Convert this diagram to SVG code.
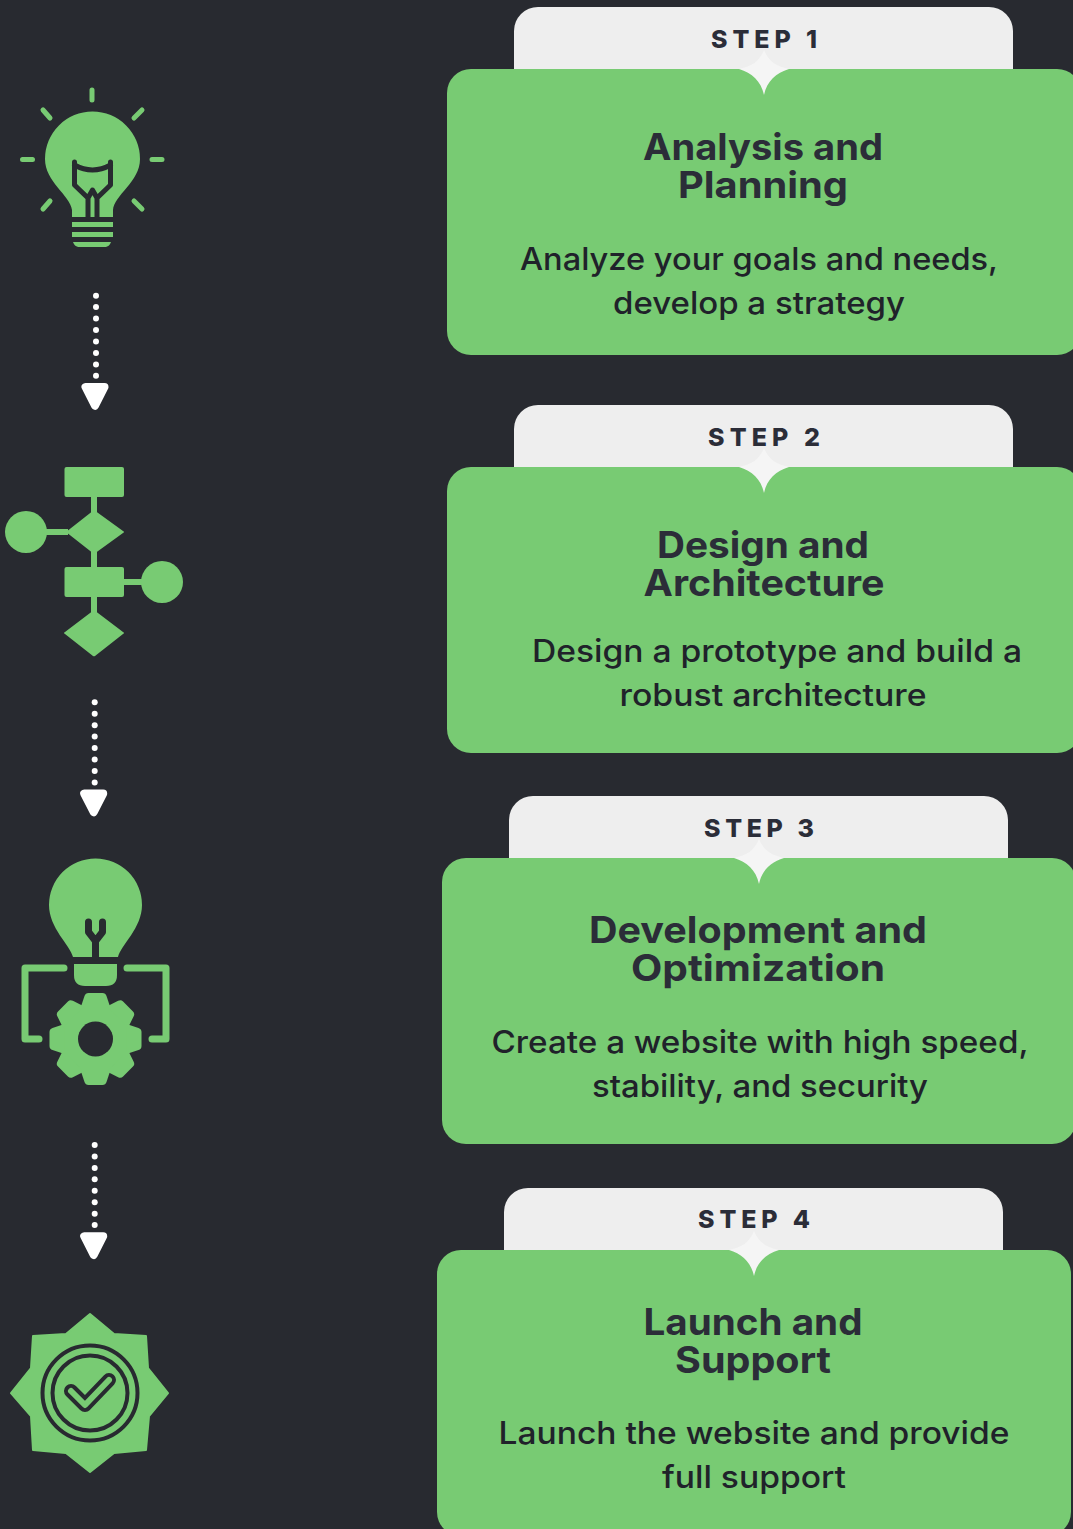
<svg xmlns="http://www.w3.org/2000/svg" xmlns:xlink="http://www.w3.org/1999/xlink" width="1073" height="1529" viewBox="0 0 1073 1529">
<style>
.g{fill:#78CB73}
.d{fill:#282A30}
.tab{fill:#EEEEEE}
.star{fill:#F5F5F5}
.step{font:800 25px Inter,"Liberation Sans",sans-serif;fill:#2B2D38;text-anchor:middle}
.title{font:700 37px Inter,"Liberation Sans",sans-serif;fill:#2B2D38;text-anchor:middle}
.body{font:500 31px Inter,"Liberation Sans",sans-serif;fill:#20222A;text-anchor:middle}
.ray{stroke:#78CB73;stroke-width:5;stroke-linecap:round;fill:none}
.fil{stroke:#282A30;stroke-width:5;fill:none;stroke-linecap:round;stroke-linejoin:round}
.dot{fill:#fff}
.head{fill:#fff;stroke:#fff;stroke-width:8;stroke-linejoin:round}
</style>
<defs>
<path id="notch" d="M0,-19C5,-7 12,-3 25,0C12,4 3,12 0,26C-3,12 -12,4 -25,0C-12,-3 -5,-7 0,-19Z"/>
<path id="tooth" d="M-15,-31L-11,-43Q-10,-46 -7,-46L7,-46Q10,-46 11,-43L15,-31Z"/>
<g id="arrow">
<circle class="dot" cx="0" cy="0" r="3"/><circle class="dot" cx="0" cy="11.4" r="3"/><circle class="dot" cx="0" cy="22.9" r="3"/><circle class="dot" cx="0" cy="34.3" r="3"/><circle class="dot" cx="0" cy="45.8" r="3"/><circle class="dot" cx="0" cy="57.2" r="3"/><circle class="dot" cx="0" cy="68.7" r="3"/><circle class="dot" cx="0" cy="80.1" r="3"/>
<path class="head" d="M-10.5,91.3H8.5L-1,110Z"/>
</g>
</defs>
<rect width="1073" height="1529" class="d"/>

<g id="connectors">
<use xlink:href="#arrow" href="#arrow" x="96" y="295.7"/>
<use xlink:href="#arrow" href="#arrow" x="94.7" y="702.3"/>
<use xlink:href="#arrow" href="#arrow" x="94.7" y="1145"/>
</g>

<g id="icon-bulb">
<path class="ray" d="M92,90V100M22.500,159.5H32.500M152,159.5H162M43,110L50,118M142,110L134,118M43,209L50,201M142,209L134,201"/>
<path class="g" d="M72,217V210C70,195 45,182 45,159A47.5,47.5 0 0 1 140,159C140,182 114,195 113,210V217Z"/>
<path class="fil" d="M74.500,162V185L88,198V217M110.500,162V185L97,198V217M88,198L92.500,190L97,198M74.500,165Q92.500,175 110.500,165"/>
<rect class="g" x="72" y="222" width="41" height="5"/>
<rect class="g" x="72" y="232" width="41" height="5"/>
<path class="g" d="M73,242H111C110,245 108,247 104,247H80C76,247 74,245 73,242Z"/>
</g>

<g id="icon-flow">
<rect class="g" x="91" y="495" width="6" height="118"/>
<rect class="g" x="44" y="529" width="24" height="6"/>
<rect class="g" x="122" y="579" width="22" height="6"/>
<rect class="g" x="64.500" y="467" width="59.500" height="30" rx="2"/>
<rect class="g" x="64.500" y="567" width="59.500" height="30" rx="2"/>
<path class="g" d="M94,510L123,531Q125,532 123,533L94,554L66,532Z"/>
<path class="g" d="M94,610L123,632Q125,633 123,634L95,656Q94,656.500 93,656L65,634Q63,633 65,632Z"/>
<circle class="g" cx="26" cy="532" r="21"/>
<circle class="g" cx="162" cy="582" r="21"/>
</g>

<g id="icon-gear-bulb">
<path class="g" d="M73,957C70,945 49,928 49,905A46.500,46.500 0 0 1 142,905C142,928 121,945 118,957Z"/>
<path d="M88.500,922V932L95.500,941L102.500,932V922M95.500,941V957" fill="none" stroke="#282A30" stroke-width="7" stroke-linecap="round" stroke-linejoin="round"/>
<path class="g" d="M74,964H117V975Q117,986 106,986H85Q74,986 74,975Z"/>
<path d="M64,968H25V1039H39M127,968H166V1039H152" fill="none" stroke="#78CB73" stroke-width="7" stroke-linecap="round" stroke-linejoin="round"/>
<g transform="translate(95.500,1039)">
<circle class="g" r="36"/>
<use class="g" xlink:href="#tooth" href="#tooth"/>
<use class="g" xlink:href="#tooth" href="#tooth" transform="rotate(45)"/>
<use class="g" xlink:href="#tooth" href="#tooth" transform="rotate(90)"/>
<use class="g" xlink:href="#tooth" href="#tooth" transform="rotate(135)"/>
<use class="g" xlink:href="#tooth" href="#tooth" transform="rotate(180)"/>
<use class="g" xlink:href="#tooth" href="#tooth" transform="rotate(225)"/>
<use class="g" xlink:href="#tooth" href="#tooth" transform="rotate(270)"/>
<use class="g" xlink:href="#tooth" href="#tooth" transform="rotate(315)"/>
<circle class="d" r="17.500"/>
</g>
</g>

<g id="icon-badge">
<path class="g" stroke="#78CB73" stroke-width="2" stroke-linejoin="round" d="M90,1314L114,1334L146,1336L148,1368L168,1393L149,1416L146,1450L114,1453L90,1472L66,1453L33,1450L31,1416L11,1393L31,1368L33,1336L66,1334Z"/>
<circle cx="90" cy="1393" r="47.500" fill="none" stroke="#282A30" stroke-width="4"/>
<circle cx="90" cy="1393" r="37.500" fill="none" stroke="#282A30" stroke-width="4"/>
<path d="M71,1391L85,1405L109,1380" fill="none" stroke="#282A30" stroke-width="14" stroke-linecap="round" stroke-linejoin="round"/>
<path d="M71,1391L85,1405L109,1380" fill="none" stroke="#78CB73" stroke-width="6" stroke-linecap="round" stroke-linejoin="round"/>
</g>

<g id="step-1">
<rect class="tab" x="514" y="7" width="499" height="90" rx="24"/>
<rect class="g" x="447" y="69" width="634" height="286" rx="24"/>
<use class="star" xlink:href="#notch" href="#notch" x="764" y="69"/>
<text class="step" x="764" y="48" textLength="106">STEP 1</text>
<text class="title" x="763" y="160" textLength="240" lengthAdjust="spacingAndGlyphs">Analysis and</text>
<text class="title" x="763" y="198" textLength="170" lengthAdjust="spacingAndGlyphs">Planning</text>
<text class="body" x="759" y="270" textLength="478" lengthAdjust="spacingAndGlyphs">Analyze your goals and needs,</text>
<text class="body" x="759" y="314" textLength="292" lengthAdjust="spacingAndGlyphs">develop a strategy</text>
</g>

<g id="step-2">
<rect class="tab" x="514" y="405" width="499" height="90" rx="24"/>
<rect class="g" x="447" y="467" width="634" height="286" rx="24"/>
<use class="star" xlink:href="#notch" href="#notch" x="764" y="467"/>
<text class="step" x="764" y="446" textLength="112">STEP 2</text>
<text class="title" x="763" y="558" textLength="212" lengthAdjust="spacingAndGlyphs">Design and</text>
<text class="title" x="764" y="596" textLength="241" lengthAdjust="spacingAndGlyphs">Architecture</text>
<text class="body" x="777" y="662" textLength="490" lengthAdjust="spacingAndGlyphs">Design a prototype and build a</text>
<text class="body" x="773" y="706" textLength="307" lengthAdjust="spacingAndGlyphs">robust architecture</text>
</g>

<g id="step-3">
<rect class="tab" x="509" y="796" width="499" height="90" rx="24"/>
<rect class="g" x="442" y="858" width="634" height="286" rx="24"/>
<use class="star" xlink:href="#notch" href="#notch" x="759" y="858"/>
<text class="step" x="759" y="837" textLength="110">STEP 3</text>
<text class="title" x="758" y="943" textLength="338" lengthAdjust="spacingAndGlyphs">Development and</text>
<text class="title" x="758" y="981" textLength="254" lengthAdjust="spacingAndGlyphs">Optimization</text>
<text class="body" x="760" y="1053" textLength="537" lengthAdjust="spacingAndGlyphs">Create a website with high speed,</text>
<text class="body" x="760" y="1097" textLength="336" lengthAdjust="spacingAndGlyphs">stability, and security</text>
</g>

<g id="step-4">
<rect class="tab" x="504" y="1188" width="499" height="90" rx="24"/>
<rect class="g" x="437" y="1250" width="634" height="286" rx="24"/>
<use class="star" xlink:href="#notch" href="#notch" x="754" y="1250"/>
<text class="step" x="754" y="1228" textLength="112">STEP 4</text>
<text class="title" x="753" y="1335" textLength="219" lengthAdjust="spacingAndGlyphs">Launch and</text>
<text class="title" x="753" y="1373" textLength="156" lengthAdjust="spacingAndGlyphs">Support</text>
<text class="body" x="754" y="1444" textLength="511" lengthAdjust="spacingAndGlyphs">Launch the website and provide</text>
<text class="body" x="754" y="1488" textLength="184" lengthAdjust="spacingAndGlyphs">full support</text>
</g>
</svg>
